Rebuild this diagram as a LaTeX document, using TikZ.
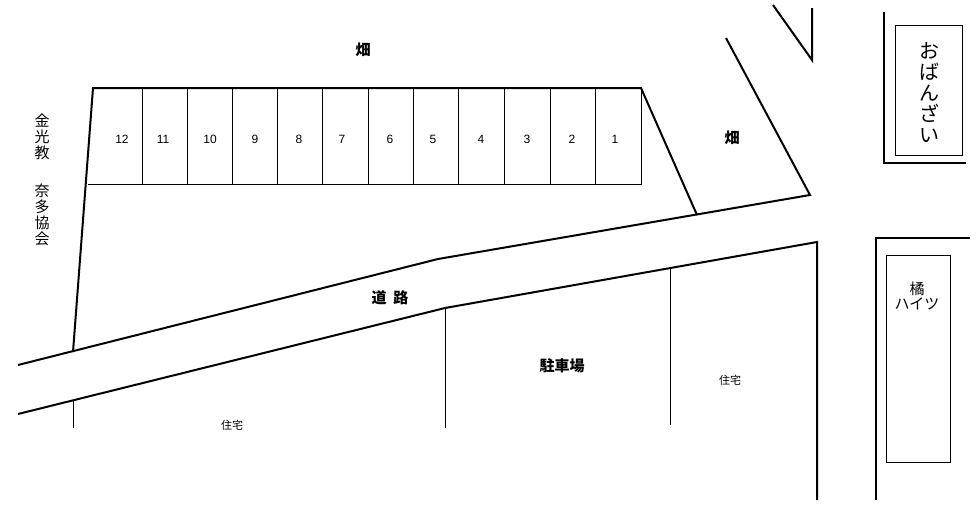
\documentclass[tikz,border=0pt]{standalone}
\usepackage{fontspec}
\setmainfont{Liberation Sans}
\newfontfamily\cjk{Noto Sans CJK JP}
\begin{document}
\begin{tikzpicture}[x=1pt,y=-1pt,
 thk/.style={line width=2pt},
 thn/.style={line width=0.8pt},
 lbl/.style={font=\cjk\fontsize{15}{17}\selectfont},
 big/.style={font=\cjk\fontsize{20}{22}\selectfont},
 sml/.style={font=\cjk\fontsize{11}{13}\selectfont},
 num/.style={font=\fontsize{12}{14}\selectfont}]
\useasboundingbox[fill=white] (0,0) rectangle (977,523);
% parking
\draw[thk] (73,352) -- (93,88) -- (641,88) -- (697,215);
\draw[thn] (88,184) -- (641,184) -- (641,88);
\foreach \x in {142,187,232,277,322,368,413,458,504,550,595}
  \draw[thn] (\x,88) -- (\x,184);
\foreach \n/\x in {12/122,11/163,10/210,9/255,8/299,7/342,6/390,5/433,4/481,3/527,2/572,1/615}
  \node[num] (p\n) at (\x,139) {\n};
% road
\draw[thk] (18,365) -- (438,259) -- (810,195) -- (726,38);
\draw[thk] (18,414) -- (445,308) -- (817,242) -- (817,500);
\draw[thk] (773,5) -- (812,60) -- (812,8);
\draw[thn] (73,400) -- (73,428);
\draw[thn] (445,308) -- (445,428);
\draw[thn] (670,268) -- (670,425);
% obanzai
\draw[thk] (884,12) -- (884,163) -- (966,163);
\draw[thn] (895,25) rectangle (962,155);
\node[big,align=center,inner sep=0] (ob) at (929,93) {お\\[-1pt]ば\\[-1pt]ん\\[-1pt]ざ\\[-1pt]い};
% heights
\draw[thk] (970,238) -- (876,238) -- (876,500);
\draw[thn] (886,255) rectangle (950,462);
\node[lbl,align=center,inner sep=0] (ht) at (917,296) {橘\\[-2pt]ハイツ};
% labels
\node[lbl] (f1) at (363,50) {\bfseries 畑};
\node[lbl] (f2) at (732,138) {\bfseries 畑};
\node[lbl,align=center,inner sep=0] (k1) at (42,137) {金\\[-1pt]光\\[-1pt]教};
\node[lbl,align=center,inner sep=0] (k2) at (42,215) {奈\\[-1pt]多\\[-1pt]協\\[-1pt]会};
\node[lbl] (rd) at (390,298) {\bfseries 道\ \ 路};
\node[lbl] (pk) at (562,366) {\bfseries 駐車場};
\node[sml] (h1) at (730,380) {住宅};
\node[sml] (h2) at (232,425) {住宅};
\end{tikzpicture}
\end{document}
